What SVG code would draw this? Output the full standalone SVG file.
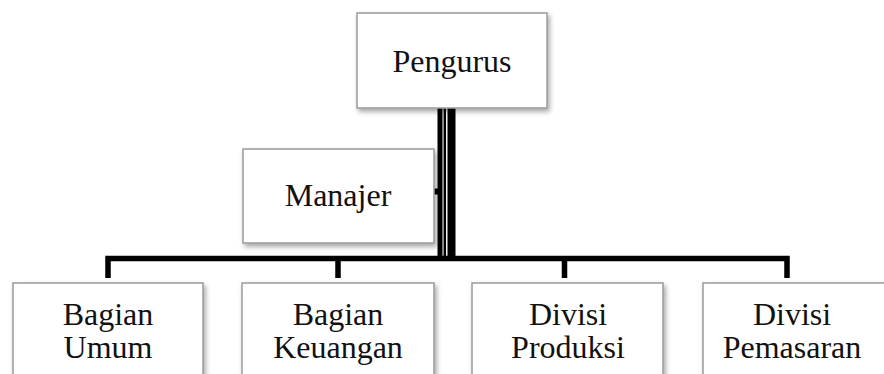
<svg xmlns="http://www.w3.org/2000/svg" width="884" height="374" viewBox="0 0 884 374">
  <defs>
    <filter id="shadow" x="-10%" y="-10%" width="130%" height="130%">
      <feDropShadow dx="2" dy="3" stdDeviation="2.5" flood-color="#000" flood-opacity="0.35"/>
    </filter>
    <style>
      .box { fill: #fff; stroke: #9a9a9a; stroke-width: 1.5; filter: url(#shadow); }
      .label { font-family: "Liberation Serif", "Times New Roman", serif; font-size: 32px; fill: #111; text-anchor: middle; }
      .wire { stroke: #000; fill: none; stroke-linecap: butt; }
    </style>
  </defs>
  <rect width="884" height="374" fill="#fff"/>

  <!-- connectors -->
  <g id="connectors">
    <!-- trunk from Pengurus down to the bus -->
    <line class="wire" x1="440" y1="108" x2="440" y2="259" stroke-width="5"/>
    <line class="wire" x1="444.8" y1="108" x2="444.8" y2="259" stroke-width="2.5"/>
    <line class="wire" x1="451.5" y1="108" x2="451.5" y2="259" stroke-width="8"/>
    <!-- Manajer tap -->
    <line class="wire" x1="433" y1="191.5" x2="441" y2="191.5" stroke-width="6"/>
    <!-- horizontal bus with drops -->
    <path class="wire" d="M108 278 V258.5 H787 V278" stroke-width="5.5"/>
    <line class="wire" x1="338" y1="258.5" x2="338" y2="278" stroke-width="5.5"/>
    <line class="wire" x1="564.5" y1="258.5" x2="564.5" y2="278" stroke-width="5.5"/>
  </g>

  <g id="pengurus">
    <rect class="box" x="357" y="13" width="190" height="95"/>
    <text class="label" x="452" y="72">Pengurus</text>
  </g>

  <g id="manajer">
    <rect class="box" x="243" y="149" width="191" height="94"/>
    <text class="label" x="338" y="206">Manajer</text>
  </g>

  <g id="bagian-umum">
    <rect class="box" x="13" y="283" width="190" height="100"/>
    <text class="label" x="108" y="325">Bagian</text>
    <text class="label" x="108" y="358">Umum</text>
  </g>

  <g id="bagian-keuangan">
    <rect class="box" x="242" y="283" width="192" height="100"/>
    <text class="label" x="338" y="325">Bagian</text>
    <text class="label" x="338" y="358">Keuangan</text>
  </g>

  <g id="divisi-produksi">
    <rect class="box" x="472" y="283" width="191" height="100"/>
    <text class="label" x="568" y="325">Divisi</text>
    <text class="label" x="568" y="358">Produksi</text>
  </g>

  <g id="divisi-pemasaran">
    <rect class="box" x="703" y="283" width="190" height="100"/>
    <text class="label" x="792" y="325">Divisi</text>
    <text class="label" x="792" y="358">Pemasaran</text>
  </g>
</svg>
